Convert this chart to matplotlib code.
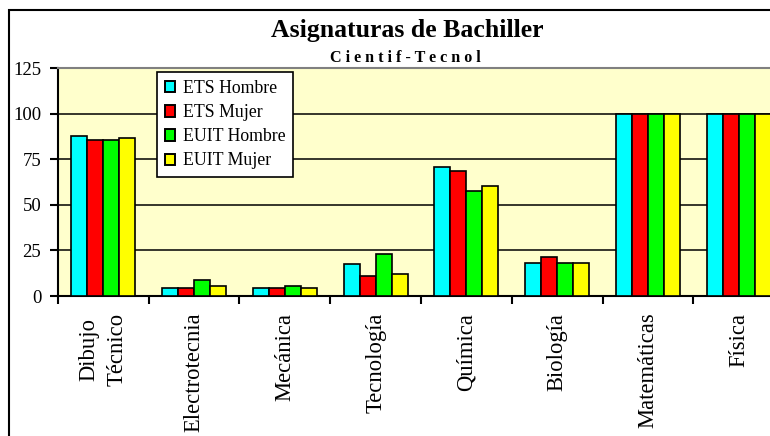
import numpy as np
import matplotlib
matplotlib.use("Agg")
import matplotlib.pyplot as plt
from matplotlib.patches import Patch, Rectangle

# datos
asignaturas = ["Dibujo\nTécnico", "Electrotecnia", "Mecánica", "Tecnología",
               "Química", "Biología", "Matemáticas", "Física"]
series = ["ETS Hombre", "ETS Mujer", "EUIT Hombre", "EUIT Mujer"]
ets_hombre = [87.5, 4.2, 4.2, 17.4, 70.5, 18.3, 100, 100]
ets_mujer = [85.5, 4.2, 4.2, 10.8, 68.5, 21.6, 100, 100]
euit_hombre = [85.5, 8.8, 5.3, 22.8, 57.7, 18.3, 100, 100]
euit_mujer = [86.6, 5.5, 4.2, 11.9, 60.3, 18.3, 100, 100]
colores = ["#00FFFF", "#FF0000", "#00FF00", "#FFFF00"]
yticks = [0, 25, 50, 75, 100, 125]

plt.rcParams['font.family'] = ['Liberation Serif', 'DejaVu Serif']

fig = plt.figure(figsize=(7.7, 4.36), dpi=100)
ax = fig.add_axes([58/770, 1 - 296/436, 726/770, 228/436])
ax.set_facecolor("#FFFFCC")

x = np.arange(len(asignaturas))
w = 0.176
valores = [ets_hombre, ets_mujer, euit_hombre, euit_mujer]
for i, (vals, col) in enumerate(zip(valores, colores)):
    ax.bar(x + (i - 1.5) * w, vals, width=w, color=col, edgecolor="black",
           linewidth=1.2, zorder=3)

ax.set_xlim(-0.5, len(asignaturas) - 0.5)
ax.set_ylim(0, 125)
ax.set_yticks(yticks)
ax.yaxis.grid(True, color="black", linewidth=1.1, zorder=1)
ax.set_axisbelow(True)

ax.set_xticks(x)
ax.set_xticklabels(asignaturas, rotation=90, fontsize=16.3, va="top",
                   multialignment="center", linespacing=1.45)
ax.set_xticks(np.arange(-0.5, len(asignaturas), 1), minor=True)
ax.tick_params(axis="x", which="major", length=0, pad=12)
ax.tick_params(axis="x", which="minor", length=6, width=1.5, direction="out")
ax.tick_params(axis="y", length=6, width=1.5, labelsize=13.5, pad=6)

for s in ["left", "bottom"]:
    ax.spines[s].set_linewidth(1.5)
ax.spines["top"].set_color("#808080")
ax.spines["top"].set_linewidth(1.5)
ax.spines["right"].set_visible(False)

handles = [Patch(facecolor=c, edgecolor="black", linewidth=1.4) for c in colores]
leg = ax.legend(handles, series, loc="upper left",
                bbox_to_anchor=(0.136, 0.982), borderaxespad=0,
                fontsize=12.8, handlelength=0.6, handleheight=0.6,
                handletextpad=0.4, labelspacing=0.4, borderpad=0.45,
                fancybox=False, framealpha=1, edgecolor="black")
leg.get_frame().set_linewidth(1.2)

fig.text(0.529, 1 - 37/436, "Asignaturas de Bachiller", ha="center",
         va="baseline", fontsize=18.5, fontweight="bold")
fig.text(0.526, 1 - 62.5/436, "C i e n t i f - T e c n o l", ha="center",
         va="baseline", fontsize=11.6, fontweight="bold")

# marco del gráfico
fig.patches.append(Rectangle((9/770, -0.1), 1.2, 1 - 10/436 + 0.1,
                             transform=fig.transFigure, fill=False,
                             edgecolor="black", linewidth=1.5))

fig.savefig("out.png", dpi=100)
